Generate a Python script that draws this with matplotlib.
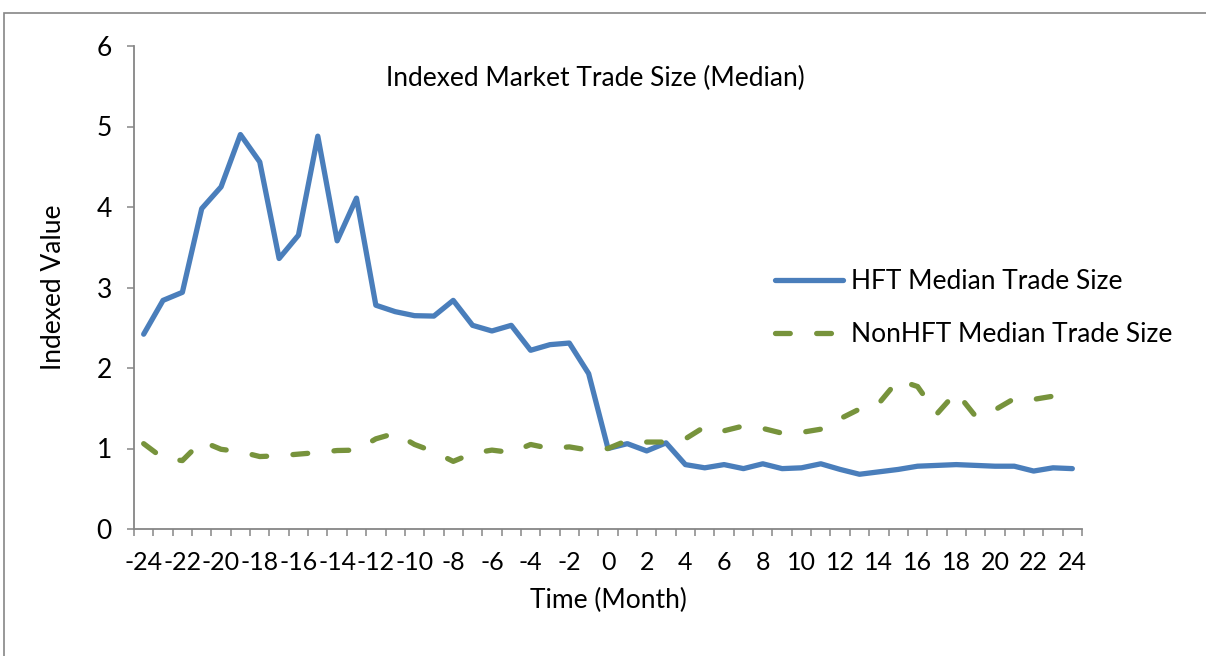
import matplotlib
matplotlib.use("Agg")
import matplotlib.pyplot as plt
from matplotlib.ticker import MultipleLocator, FixedLocator
from matplotlib.patches import Rectangle
import numpy as np

plt.rcParams['font.family'] = ['Lato', 'DejaVu Sans']

months = list(range(-24, 25))
hft = [2.42, 2.84, 2.94, 3.98, 4.25, 4.90, 4.56, 3.36, 3.65, 4.88,
       3.58, 4.11, 2.78, 2.70, 2.65, 2.645, 2.84, 2.53, 2.46, 2.53,
       2.22, 2.29, 2.31, 1.93, 1.00, 1.06, 0.97, 1.07, 0.80, 0.76,
       0.80, 0.75, 0.81, 0.75, 0.76, 0.81, 0.74, 0.68, 0.71, 0.74,
       0.78, 0.79, 0.80, 0.79, 0.78, 0.78, 0.72, 0.76, 0.75]
nonhft = [1.06, 0.88, 0.85, 1.09, 0.99, 0.96, 0.90, 0.91, 0.93, 0.95,
          0.975, 0.98, 1.12, 1.19, 1.05, 0.96, 0.84, 0.94, 0.98, 0.95,
          1.05, 1.00, 1.02, 0.98, 1.00, 1.10, 1.08, 1.08, 1.12, 1.27,
          1.22, 1.28, 1.25, 1.19, 1.20, 1.24, 1.37, 1.49, 1.56, 1.85,
          1.77, 1.43, 1.70, 1.40, 1.48, 1.62, 1.61, 1.65, 1.65]
xtick_labels = [str(v) for v in range(-24, 25, 2)]

W, H = 1206, 656
FS = 19
TFS = 18
fig = plt.figure(figsize=(W / 100, H / 100), dpi=100)
fig.patch.set_facecolor('white')

# outer chart border
fig.patches.append(Rectangle((4 / W, -0.1), 1.2, (H - 13) / H + 0.1,
                             transform=fig.transFigure, fill=False,
                             edgecolor='#868686', linewidth=1.2))

left, right, top, bottom = 134, 1082, 46, 529
ax = fig.add_axes([left / W, 1 - bottom / H, (right - left) / W, (bottom - top) / H])

ax.plot(months, hft, color='#4A7EBB', linewidth=3.8, solid_capstyle='round',
        solid_joinstyle='round', label='HFT Median Trade Size')
ax.plot(months, nonhft, color='#77933C', linewidth=3.8, dash_capstyle='round',
        dash_joinstyle='round', dashes=(2.8, 5.0), label='NonHFT Median Trade Size')

ax.set_xlim(-24.5, 24.5)
ax.set_ylim(0, 6)
ax.yaxis.set_major_locator(MultipleLocator(1))
ax.xaxis.set_major_locator(FixedLocator(list(range(-24, 25, 2))))
ax.set_xticklabels(xtick_labels)
ax.xaxis.set_minor_locator(FixedLocator(list(np.arange(-24.5, 25, 1.0))))

for s in ['top', 'right']:
    ax.spines[s].set_visible(False)
for s in ['left', 'bottom']:
    ax.spines[s].set_color('#868686')
    ax.spines[s].set_linewidth(1.3)

ax.tick_params(axis='y', direction='out', length=5, width=1.1, color='#868686',
               labelsize=FS, pad=11)
ax.tick_params(axis='x', which='major', length=0, labelsize=TFS, pad=16)
ax.tick_params(axis='x', which='minor', direction='out', length=5, width=1.1,
               color='#868686')

ax.set_xlabel('Time (Month)', fontsize=FS, labelpad=10)
ax.set_ylabel('Indexed Value', fontsize=FS, labelpad=22)
fig.text(595 / W, 1 - 78 / H, 'Indexed Market Trade Size (Median)', fontsize=FS,
         ha='center', va='center')

leg = ax.legend(loc='upper left', bbox_to_anchor=(757 / W, 1 - 251 / H),
                bbox_transform=fig.transFigure, frameon=False, fontsize=FS,
                handlelength=2.55, handletextpad=0.3, labelspacing=1.05,
                borderpad=0.2)

fig.savefig('out.png', dpi=100, facecolor='white')
